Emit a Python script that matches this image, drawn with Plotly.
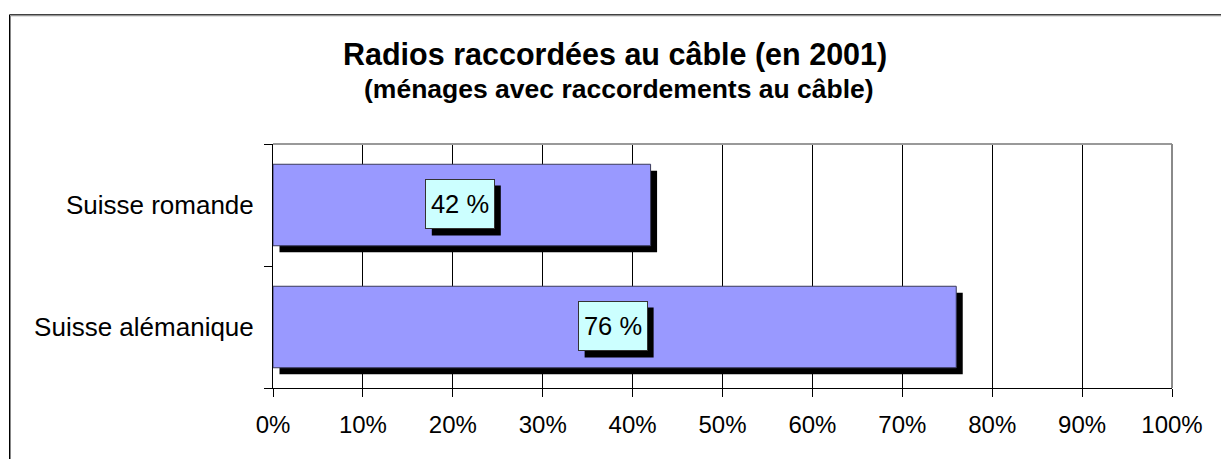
import plotly.graph_objects as go

# ---- data ----
categories = ["Suisse alémanique", "Suisse romande"]   # bottom -> top
values = [76, 42]                                        # percent
value_labels = ["76 %", "42 %"]
x_ticks = [0, 10, 20, 30, 40, 50, 60, 70, 80, 90, 100]
x_tick_labels = ["0%", "10%", "20%", "30%", "40%", "50%", "60%", "70%", "80%", "90%", "100%"]
title_text = "Radios raccordées au câble (en 2001)"
subtitle_text = "(ménages avec raccordements au câble)"

# ---- style ----
FONT = "Arial, Liberation Sans, sans-serif"
W, H = 1221, 459
L, R, T, B = 273, 49, 144, 70.5
plot_w = W - L - R
plot_h = H - T - B
BAR_W = 0.668
SHADOW_PX = 6.5
shadow_dx = SHADOW_PX / plot_w * 100          # in axis % units
shadow_dy = SHADOW_PX / (plot_h / 2)          # in category units
BOX_HW, BOX_HH = 34.5, 25                     # label box half size (px)
LBL_XS, LBL_YS = -2, 1                        # label shifts (px)

fig = go.Figure()

# bar shadows
fig.add_trace(go.Bar(
    y=categories, x=values, base=[shadow_dx] * len(values), orientation="h",
    width=BAR_W, offset=-BAR_W / 2 - shadow_dy,
    marker=dict(color="black", line=dict(width=0)),
    hoverinfo="skip", showlegend=False,
))
# bars
fig.add_trace(go.Bar(
    y=categories, x=values, orientation="h",
    width=BAR_W, offset=-BAR_W / 2,
    marker=dict(color="#9999FF", line=dict(color="#3a3a5a", width=1)),
    showlegend=False,
))

annotations = []
shapes = []
for cat, v, lab in zip(categories, values, value_labels):
    # label box shadow
    shapes.append(dict(type="rect", xref="x", yref="y",
                       xsizemode="pixel", ysizemode="pixel",
                       xanchor=v / 2, yanchor=cat,
                       x0=-BOX_HW + LBL_XS + SHADOW_PX, x1=BOX_HW + LBL_XS + SHADOW_PX,
                       y0=-BOX_HH + LBL_YS - SHADOW_PX, y1=BOX_HH + LBL_YS - SHADOW_PX,
                       fillcolor="black", line=dict(width=0)))
    annotations.append(dict(text=lab, x=v / 2, y=cat, xref="x", yref="y", showarrow=False,
                            width=62, height=42, borderpad=3, borderwidth=1,
                            xanchor="center", yanchor="middle",
                            xshift=LBL_XS, yshift=LBL_YS,
                            bgcolor="#CCFFFF", bordercolor="#333333",
                            font=dict(family=FONT, size=25.5, color="black")))

annotations.append(dict(text="<b>" + title_text + "</b>", xref="paper", yref="paper",
                        x=(615 - L) / plot_w, y=(H - B - 54) / plot_h,
                        xanchor="center", yanchor="middle", showarrow=False,
                        font=dict(family=FONT, size=30.5, color="black")))
annotations.append(dict(text="<b>" + subtitle_text + "</b>", xref="paper", yref="paper",
                        x=(618.5 - L) / plot_w, y=(H - B - 89) / plot_h,
                        xanchor="center", yanchor="middle", showarrow=False,
                        font=dict(family=FONT, size=26.5, color="black")))

shapes += [
    # outer frame (black + inner gray)
    dict(type="rect", xref="paper", yref="paper",
         x0=(9.5 - L) / plot_w, x1=2, y0=-1, y1=(H - B - 14.5) / plot_h,
         line=dict(color="black", width=1), fillcolor="rgba(0,0,0,0)"),
    dict(type="rect", xref="paper", yref="paper",
         x0=(10.5 - L) / plot_w, x1=2, y0=-1, y1=(H - B - 15.5) / plot_h,
         line=dict(color="#888888", width=1), fillcolor="rgba(0,0,0,0)"),
    # plot-area border top and right (gray)
    dict(type="line", xref="paper", yref="paper", x0=0, x1=1, y0=1, y1=1,
         line=dict(color="#999999", width=2)),
    dict(type="line", xref="paper", yref="paper", x0=1, x1=1, y0=0, y1=1,
         line=dict(color="#8a8a8a", width=2)),
]

fig.update_layout(
    width=W, height=H,
    margin=dict(l=L, r=R, t=T, b=B),
    paper_bgcolor="white", plot_bgcolor="white",
    barmode="overlay",
    showlegend=False,
    annotations=annotations,
    shapes=shapes,
    font=dict(family=FONT, color="black"),
)
fig.update_xaxes(
    range=[0, 100], tickvals=x_ticks, ticktext=x_tick_labels,
    showgrid=True, gridcolor="black", gridwidth=1,
    showline=True, linecolor="black", linewidth=1,
    ticks="outside", ticklen=8, tickcolor="black", tickwidth=1,
    tickfont=dict(family=FONT, size=24, color="black"),
    ticklabelstandoff=7,
    zeroline=False, fixedrange=True,
)
fig.update_yaxes(
    type="category", categoryorder="array", categoryarray=categories,
    range=[-0.5, 1.5], tickson="boundaries",
    showgrid=False, showline=True, linecolor="black", linewidth=1,
    ticks="outside", ticklen=8, tickcolor="black", tickwidth=1,
    tickfont=dict(family=FONT, size=26, color="black"),
    ticklabelstandoff=13,
    fixedrange=True,
)

fig.write_html("out.html", config={"displayModeBar": False},
               post_script="document.body.style.margin='0';document.body.style.overflow='hidden';")
